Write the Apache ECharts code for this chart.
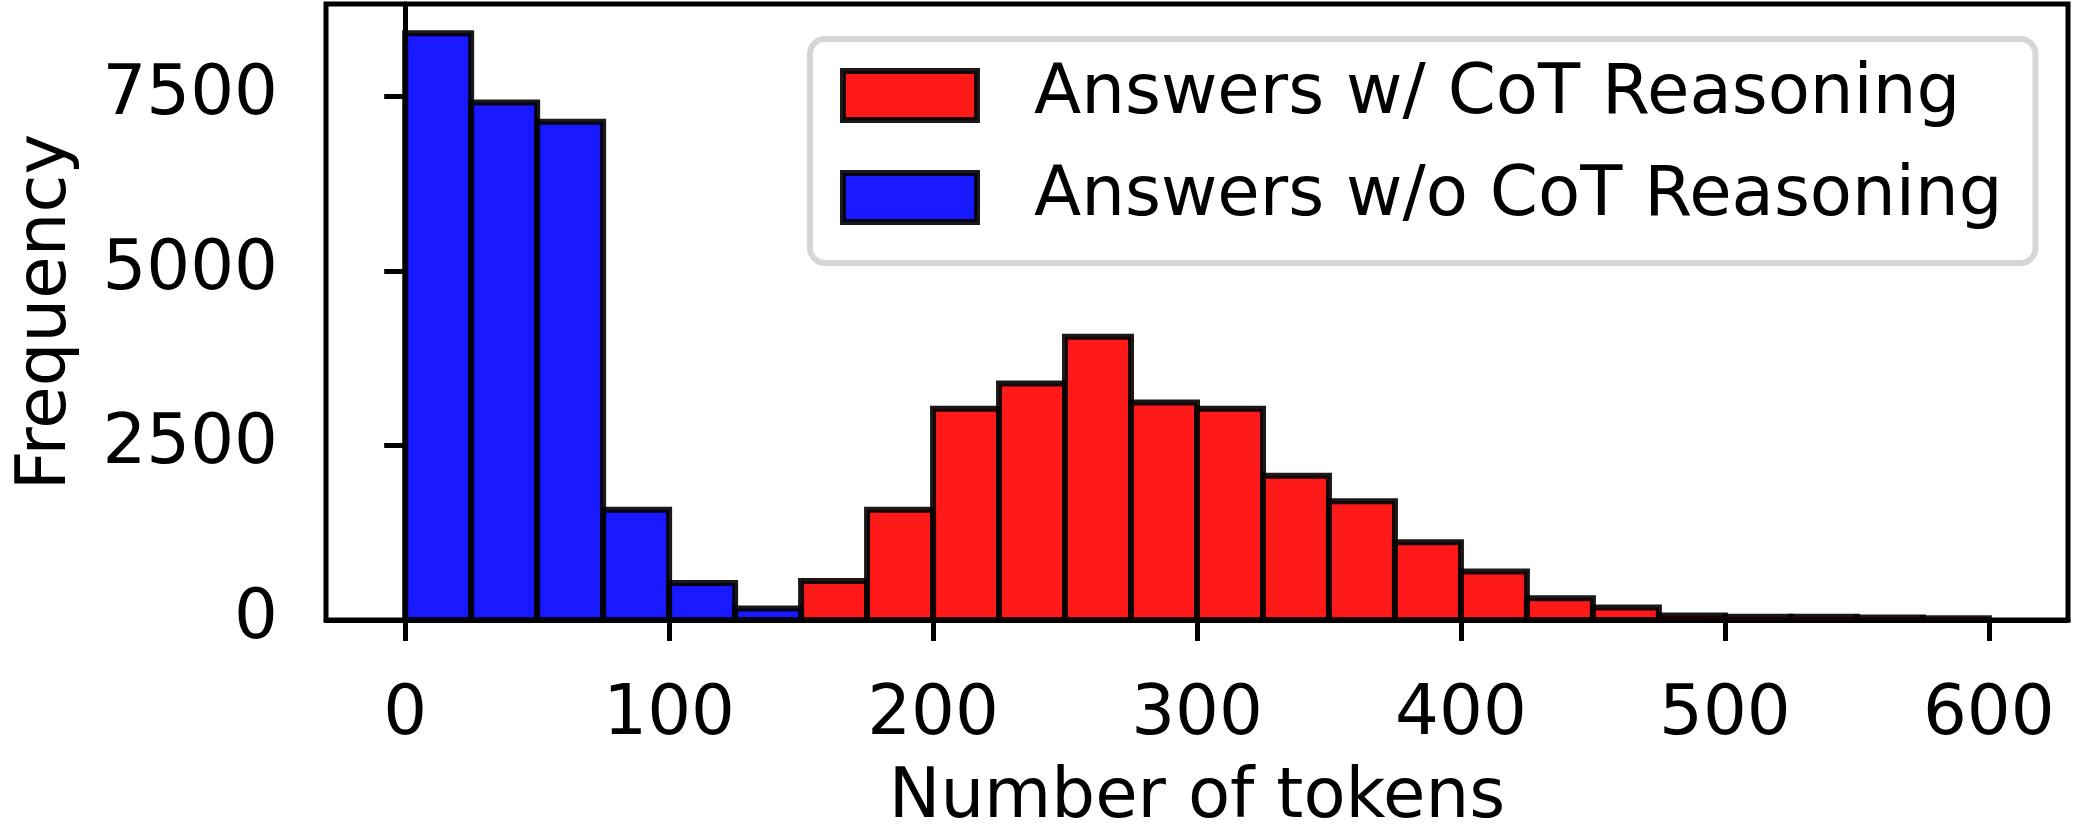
<!DOCTYPE html>
<html>
<head>
<meta charset="utf-8">
<title>Number of tokens</title>
<style>
    html, body { margin: 0; padding: 0; background: #fff; }
    #histChart { width: 2074px; height: 836px; }
</style>
</head>
<body>
<div id="histChart"></div>
<script src="https://cdn.jsdelivr.net/npm/echarts@6/dist/echarts.min.js"></script>
<script>
// bin edges, 25 tokens wide
var binStarts = [0, 25, 50, 75, 100, 125, 150, 175, 200, 225, 250, 275, 300, 325, 350, 375, 400, 425, 450, 475, 500, 525, 550, 575]
var binEnds = [25, 50, 75, 100, 125, 150, 175, 200, 225, 250, 275, 300, 325, 350, 375, 400, 425, 450, 475, 500, 525, 550, 575, 600]
// frequency per bin
var cotCounts = [0, 0, 0, 0, 0, 0, 560, 1580, 3025, 3385, 4055, 3115, 3025, 2065, 1700, 1115, 695, 310, 180, 65, 45, 45, 35, 25]
var noCotCounts = [8400, 7410, 7135, 1580, 530, 165, 0, 0, 0, 0, 0, 0, 0, 0, 0, 0, 0, 0, 0, 0, 0, 0, 0, 0]
var seriesNames = ['Answers w/ CoT Reasoning', 'Answers w/o CoT Reasoning']
var xTicks = [0, 100, 200, 300, 400, 500, 600]
var yTicks = [0, 2500, 5000, 7500]

;
(function () {
    var font = 'DejaVu Sans',
        fontSize = 69,
        edgeColor = 'rgba(0,0,0,0.9)',
        redFill = 'rgba(255,0,0,0.9)',
        blueFill = 'rgba(0,0,255,0.9)'

    function toBins(counts) { // [start, end, count], empty bins dropped
        var out = []
        for (var i = 0; i < counts.length; i++) {
            if (counts[i] > 0) {
                out.push([binStarts[i], binEnds[i], counts[i]])
            }
        }
        return out
    }

    function histRect(fill) { // one rect per bin, placed through the axes
        return function (params, api) {
            var p0 = api.coord([api.value(0), 0])
            var p1 = api.coord([api.value(1), api.value(2)])
            return {
                type: 'rect',
                shape: { x: p0[0], y: p1[1], width: p1[0] - p0[0], height: p0[1] - p1[1] },
                style: { fill: fill, stroke: edgeColor, lineWidth: 6 },
            }
        }
    }

    function plainNum(v) { // no thousands separator
        return String(v)
    }

    var axisText = { color: '#000', fontFamily: font, fontSize: fontSize }

    var myChart = echarts.init(document.getElementById('histChart'))
    var option = {
        animation: false,
        backgroundColor: '#fff',
        grid: {
            left: 326,
            right: 6,
            top: 4,
            bottom: 216,
            outerBoundsMode: 'none',
            containLabel: false,
            show: true,
            borderColor: '#000',
            borderWidth: 5,
            backgroundColor: 'transparent',
        },
        legend: {
            orient: 'vertical',
            left: 810,
            top: 39,
            padding: [22, 33, 31, 30],
            itemWidth: 134,
            itemHeight: 49,
            itemGap: 33,
            backgroundColor: 'rgba(255,255,255,0.8)',
            borderColor: '#d6d6d6',
            borderWidth: 6,
            borderRadius: 15,
            textStyle: { color: '#000', fontFamily: font, fontSize: fontSize, padding: [0, 0, 0, 52] },
            data: [
                { name: seriesNames[0], icon: 'rect', itemStyle: { color: redFill, borderColor: edgeColor, borderWidth: 6 } },
                { name: seriesNames[1], icon: 'rect', itemStyle: { color: blueFill, borderColor: edgeColor, borderWidth: 6 } },
            ],
        },
        xAxis: {
            type: 'value',
            min: -30,
            max: 630,
            name: 'Number of tokens',
            nameLocation: 'middle',
            nameGap: 145,
            nameTextStyle: axisText,
            axisLine: { show: true, onZero: false, lineStyle: { color: '#000', width: 5 } },
            axisTick: { show: true, length: 21, lineStyle: { color: '#000', width: 5 }, customValues: xTicks },
            axisLabel: { margin: 62, color: '#000', fontFamily: font, fontSize: fontSize, customValues: xTicks, formatter: plainNum },
            splitLine: { show: false },
        },
        yAxis: {
            type: 'value',
            min: 0,
            max: 8820,
            name: 'Frequency',
            nameLocation: 'middle',
            nameGap: 244,
            nameTextStyle: axisText,
            axisLine: { show: true, lineStyle: { color: '#000', width: 5 } },
            axisTick: { show: true, length: 21, lineStyle: { color: '#000', width: 5 }, customValues: yTicks },
            axisLabel: { margin: 48, color: '#000', fontFamily: font, fontSize: fontSize, customValues: yTicks, formatter: plainNum },
            splitLine: { show: false },
        },
        series: [
            {
                name: seriesNames[0],
                type: 'custom',
                itemStyle: { color: redFill },
                encode: { x: [0, 1], y: 2 },
                renderItem: histRect(redFill),
                data: toBins(cotCounts),
            },
            {
                name: seriesNames[1],
                type: 'custom',
                itemStyle: { color: blueFill },
                encode: { x: [0, 1], y: 2 },
                renderItem: histRect(blueFill),
                data: toBins(noCotCounts),
            },
        ],
    }

    myChart.setOption(option)
}())
</script>
</body>
</html>
